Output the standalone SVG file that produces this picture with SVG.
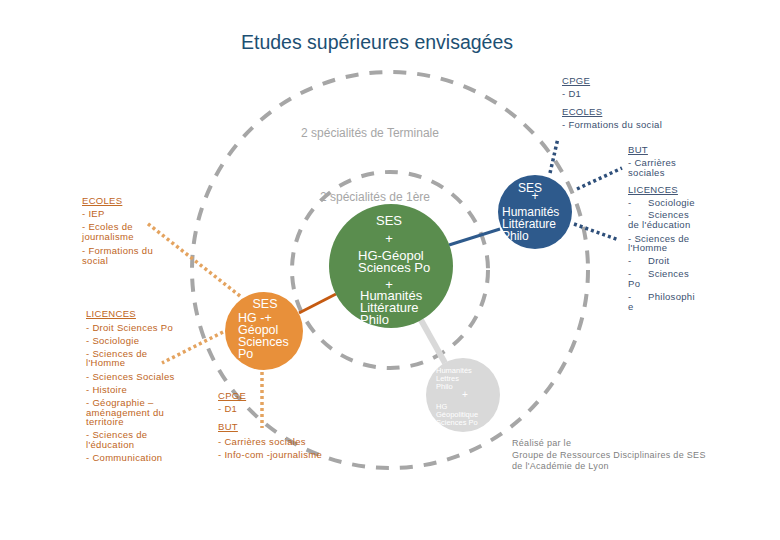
<svg xmlns="http://www.w3.org/2000/svg" width="780" height="540" viewBox="0 0 780 540">
<style>
text{font-family:"Liberation Sans",Arial,sans-serif}
.ring{fill:none;stroke:#a6a6a6;stroke-width:4;stroke-dasharray:13 11}
.ringlbl{font-size:12px;fill:#a6a6a6}
.sm{font-size:9.5px;letter-spacing:0.3px}
.blue{fill:#3a4f6f}
.or{fill:#c0651c}
.u{text-decoration:underline}
.wt{fill:#ffffff}
.dotb{stroke:#2e4f7a;stroke-width:3.5;stroke-dasharray:3 3;fill:none}
.doto{stroke:#e4a35f;stroke-width:3.5;stroke-dasharray:3 3;fill:none}
</style>
<rect width="780" height="540" fill="#ffffff"/>
<text x="377" y="49" text-anchor="middle" font-size="19.5" fill="#1d4f73">Etudes supérieures envisagées</text>

<g id="rings">
<circle class="ring" cx="390" cy="270" r="198"/>
<circle class="ring" cx="390" cy="270" r="98"/>
<text class="ringlbl" x="370" y="137" text-anchor="middle">2 spécialités de Terminale</text>
<text class="ringlbl" x="375" y="201" text-anchor="middle">2 spécialités de 1ère</text>
</g>

<g id="connectors">
<line x1="299" y1="313" x2="336" y2="294" stroke="#c55a11" stroke-width="3"/>
<line x1="500" y1="229" x2="449" y2="245" stroke="#2e5a8c" stroke-width="3"/>
<line x1="421" y1="320" x2="445" y2="363" stroke="#d9d9d9" stroke-width="6"/>
<line class="dotb" x1="550" y1="173" x2="558" y2="138"/>
<line class="dotb" x1="577" y1="189" x2="622" y2="168"/>
<line class="dotb" x1="574" y1="224" x2="619" y2="240"/>
<line class="doto" x1="240" y1="296" x2="147" y2="223"/>
<line class="doto" x1="223" y1="332" x2="162" y2="363"/>
<line class="doto" x1="262" y1="372" x2="262" y2="428"/>
</g>

<g id="node-green">
<circle cx="391" cy="266" r="62" fill="#5a8d4e"/>
<g class="wt" font-size="13">
<text x="389" y="225" text-anchor="middle">SES</text>
<text x="389" y="243" text-anchor="middle">+</text>
<text x="358" y="260">HG-Géopol</text>
<text x="358" y="272">Sciences Po</text>
<text x="389" y="289" text-anchor="middle">+</text>
<text x="360" y="300">Humanités</text>
<text x="360" y="312">Littérature</text>
<text x="360" y="324">Philo</text>
</g>
</g>

<g id="node-blue">
<circle cx="535" cy="212" r="37" fill="#2e5a8c"/>
<g class="wt" font-size="12">
<text x="530" y="192" text-anchor="middle">SES</text>
<text x="535" y="200" text-anchor="middle">+</text>
<text x="502" y="216">Humanités</text>
<text x="502" y="228">Littérature</text>
<text x="502" y="240">Philo</text>
</g>
</g>

<g id="node-orange">
<circle cx="264" cy="331" r="39" fill="#e8903a"/>
<g class="wt" font-size="12.5">
<text x="265" y="308" text-anchor="middle">SES</text>
<text x="238" y="322">HG -+</text>
<text x="238" y="334">Géopol</text>
<text x="238" y="346">Sciences</text>
<text x="238" y="358">Po</text>
</g>
</g>

<g id="node-gray">
<circle cx="463" cy="395" r="37" fill="#d9d9d9"/>
<g class="wt" font-size="7.5">
<text x="436" y="373">Humanités</text>
<text x="436" y="381">Lettres</text>
<text x="436" y="389">Philo</text>
<text x="465" y="398" text-anchor="middle" font-size="10">+</text>
<text x="436" y="409">HG</text>
<text x="436" y="417">Géopolitique</text>
<text x="436" y="425">Sciences Po</text>
</g>
</g>

<g id="text-blue-top" class="sm blue">
<text x="562" y="84" class="u">CPGE</text>
<text x="562" y="97">- D1</text>
<text x="562" y="115" class="u">ECOLES</text>
<text x="562" y="128">- Formations du social</text>
</g>

<g id="text-blue-right" class="sm blue">
<text x="628" y="153" class="u">BUT</text>
<text x="628" y="166">- Carrières</text>
<text x="628" y="176">sociales</text>
<text x="628" y="193" class="u">LICENCES</text>
<text x="628" y="206">-</text><text x="648" y="206">Sociologie</text>
<text x="628" y="218">-</text><text x="648" y="218">Sciences</text>
<text x="628" y="228">de l'éducation</text>
<text x="628" y="242">- Sciences de</text>
<text x="628" y="251">l'Homme</text>
<text x="628" y="264">-</text><text x="648" y="264">Droit</text>
<text x="628" y="277">-</text><text x="648" y="277">Sciences</text>
<text x="628" y="287">Po</text>
<text x="628" y="300">-</text><text x="648" y="300">Philosophi</text>
<text x="628" y="310">e</text>
</g>

<g id="text-orange-ecoles" class="sm or">
<text x="82" y="204" class="u">ECOLES</text>
<text x="82" y="217">- IEP</text>
<text x="82" y="230">- Ecoles de</text>
<text x="82" y="240">journalisme</text>
<text x="82" y="254">- Formations du</text>
<text x="82" y="264">social</text>
</g>

<g id="text-orange-licences" class="sm or">
<text x="86" y="317" class="u">LICENCES</text>
<text x="86" y="331">- Droit Sciences Po</text>
<text x="86" y="344">- Sociologie</text>
<text x="86" y="357">- Sciences de</text>
<text x="86" y="366">l'Homme</text>
<text x="86" y="380">- Sciences Sociales</text>
<text x="86" y="393">- Histoire</text>
<text x="86" y="406">- Géographie –</text>
<text x="86" y="416">aménagement du</text>
<text x="86" y="425">territoire</text>
<text x="86" y="438">- Sciences de</text>
<text x="86" y="448">l'éducation</text>
<text x="86" y="461">- Communication</text>
</g>

<g id="text-orange-bottom" class="sm or">
<text x="218" y="399" class="u">CPGE</text>
<text x="218" y="412">- D1</text>
<text x="218" y="430" class="u">BUT</text>
<text x="218" y="445">- Carrières sociales</text>
<text x="218" y="458">- Info-com -journalisme</text>
</g>

<g id="credit" font-size="9" fill="#7f7f7f">
<text x="512" y="446" letter-spacing="0.3">Réalisé par le</text>
<text x="512" y="458" letter-spacing="0.3">Groupe de Ressources Disciplinaires de SES</text>
<text x="512" y="469" letter-spacing="0.3">de l'Académie de Lyon</text>
</g>
</svg>
